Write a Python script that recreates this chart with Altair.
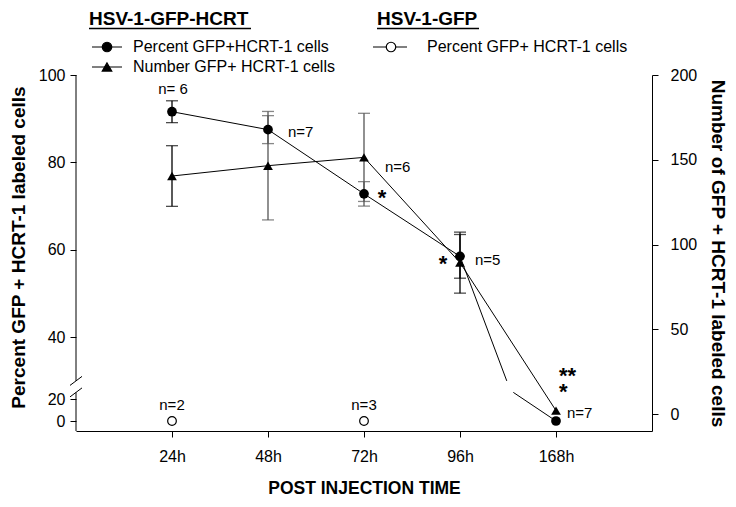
import math
import altair as alt
import pandas as pd

# ------------------------------------------------------------------ data
times = ["24h", "48h", "72h", "96h", "168h"]
pct_gfp_hcrt = [91.6, 87.5, 72.8, 58.5, 0.0]      # left axis, filled circles
pct_err = [2.5, 3.2, 2.8, 5.0, 0.0]
num_gfp_hcrt = [140.4, 146.5, 151.4, 89.3, 2.0]   # right axis, triangles
num_err = [17.9, 32.0, 26.0, 18.0, 0.0]
n_hcrt = ["n= 6", "n=7", "n=6", "n=5", "n=7"]
bar_colors = ["#000000", "#555555", "#555555", "#000000", "#000000"]

gfp_times = ["24h", "72h"]
pct_gfp = [0.0, 0.0]                              # open circles
n_gfp = ["n=2", "n=3"]

left_ticks = [0, 20, 40, 60, 80, 100]
right_ticks = [0, 50, 100, 150, 200]

FONT = "Liberation Sans"

# ------------------------------------------------------------------ geometry
W, H = 576, 356
UP_PX, UP_B = 4.37, 437.0     # upper part of the broken percent axis
LO_PX, LO_B = 1.10, 346.0     # lower part of the broken percent axis
BREAK_TOP, BREAK_BOT = 30, 26


def up(v):
    return UP_B - UP_PX * v


def lo(v):
    return LO_B - LO_PX * v


left_domain = [(LO_B - H) / LO_PX, BREAK_BOT, BREAK_TOP, 100]
left_range = [H, lo(BREAK_BOT), up(BREAK_TOP), up(100)]
R_PX = 1.695
right_domain = [200 - H / R_PX, 200]

# dash patterns that reproduce the gap of the broken axis on the 96h->168h link
step = W / (len(times) + 1)
i0, i1 = times.index("96h"), times.index("168h")
ddx = step * (i1 - i0)
v0, v1 = pct_gfp_hcrt[i0], pct_gfp_hcrt[i1]
ya, yb = up(v0), up(v1)
L_up = math.hypot(ddx, yb - ya)
dash_up = [L_up * (up(BREAK_TOP) - ya) / (yb - ya), L_up + 20]
ya2, yb2 = lo(v0), lo(v1)
L_lo = math.hypot(ddx, yb2 - ya2)
hid = L_lo * (lo(BREAK_BOT) - ya2) / (yb2 - ya2)
dash_lo = [0, hid, L_lo, 20]

# ------------------------------------------------------------------ tables
df = pd.DataFrame({
    "time": times, "idx": list(range(len(times))),
    "pct": pct_gfp_hcrt, "pct_err": pct_err,
    "num": num_gfp_hcrt, "num_err": num_err,
    "n": n_hcrt, "bar": bar_colors,
})
df["pct_lo"] = df["pct"] - df["pct_err"]
df["pct_hi"] = df["pct"] + df["pct_err"]
df["num_lo"] = df["num"] - df["num_err"]
df["num_hi"] = df["num"] + df["num_err"]
dfg = pd.DataFrame({"time": gfp_times, "pct": pct_gfp, "n": n_gfp})
one = pd.DataFrame({"a": [0]})

# ------------------------------------------------------------------ scales / axes
x_axis = alt.Axis(labelAngle=0, tickSize=6, labelPadding=11, labelFontSize=16,
                  labelColor="black", domainColor="black", tickColor="black",
                  titleFontSize=17.5, titleFontWeight="bold", titleColor="black",
                  titleX=W / 2, titleY=57, titleBaseline="middle", grid=False)
X = alt.X("time:N", scale=alt.Scale(type="point", domain=times, padding=1),
          axis=x_axis, title="POST INJECTION TIME")

left_axis = alt.Axis(orient="left", values=left_ticks, domain=False, tickSize=6,
                     labelPadding=5, labelFontSize=16, labelColor="black",
                     tickColor="black", grid=False,
                     titleFontSize=19, titleFontWeight="bold", titleColor="black",
                     titleX=-58, titleY=172, titleAngle=270, titleAlign="center",
                     titleBaseline="middle")
right_axis = alt.Axis(orient="right", values=right_ticks, tickSize=6,
                      labelPadding=12, labelFontSize=16, labelColor="black",
                      tickColor="black", domainColor="black", grid=False,
                      titleFontSize=19, titleFontWeight="bold", titleColor="black",
                      titleX=65, titleY=178, titleAngle=90, titleAlign="center",
                      titleBaseline="middle")

LSCALE = alt.Scale(domain=left_domain, range=left_range, nice=False, zero=False)
RSCALE = alt.Scale(domain=right_domain, range=[H, 0], nice=False, zero=False)


def YL(field, axis=None, title=""):
    return alt.Y(field, type="quantitative", scale=LSCALE, axis=axis, title=title)


def YR(field, axis=None, title=""):
    return alt.Y(field, type="quantitative", scale=RSCALE, axis=axis, title=title)


base = alt.Chart(df)
layers = []

# lines
layers.append(base.mark_line(color="black", strokeWidth=1).encode(
    x=X, y=YR("num", right_axis, "Number of GFP + HCRT-1 labeled cells"), order="idx:Q"))
layers.append(base.transform_filter(alt.datum.idx <= i0).mark_line(color="black", strokeWidth=1).encode(
    x=X, y=YL("pct", left_axis, "Percent  GFP + HCRT-1 labeled cells"), order="idx:Q"))
seg = base.transform_filter(alt.datum.idx >= i0)
layers.append(seg.mark_line(color="black", strokeWidth=1, strokeDash=dash_up).encode(
    x=X, y=alt.Y("pct:Q", scale=alt.Scale(domain=[0, 100], range=[up(0), up(100)], nice=False, zero=False), axis=None),
    order="idx:Q"))
layers.append(seg.mark_line(color="black", strokeWidth=1, strokeDash=dash_lo).encode(
    x=X, y=alt.Y("pct:Q", scale=alt.Scale(domain=[0, 100], range=[lo(0), lo(100)], nice=False, zero=False), axis=None),
    order="idx:Q"))

# error bars
eb = base.transform_filter(alt.datum.pct_err > 0)
layers.append(eb.mark_rule(strokeWidth=1.3).encode(
    x=X, y=YL("pct_lo"), y2="pct_hi", color=alt.Color("bar:N", scale=None)))
layers.append(eb.mark_tick(size=12, thickness=1.3).encode(x=X, y=YL("pct_lo"), color=alt.Color("bar:N", scale=None)))
layers.append(eb.mark_tick(size=12, thickness=1.3).encode(x=X, y=YL("pct_hi"), color=alt.Color("bar:N", scale=None)))
ebn = base.transform_filter(alt.datum.num_err > 0)
layers.append(ebn.mark_rule(strokeWidth=1.3).encode(
    x=X, y=YR("num_lo"), y2="num_hi", color=alt.Color("bar:N", scale=None)))
layers.append(ebn.mark_tick(size=12, thickness=1.3).encode(x=X, y=YR("num_lo"), color=alt.Color("bar:N", scale=None)))
layers.append(ebn.mark_tick(size=12, thickness=1.3).encode(x=X, y=YR("num_hi"), color=alt.Color("bar:N", scale=None)))

# markers
layers.append(base.mark_point(shape="triangle-up", filled=True, size=95, color="black", opacity=1).encode(
    x=X, y=YR("num")))
layers.append(base.mark_point(shape="circle", filled=True, size=95, color="black", opacity=1).encode(
    x=X, y=YL("pct")))
gb = alt.Chart(dfg)
layers.append(gb.mark_point(shape="circle", filled=True, fill="white", stroke="black", strokeWidth=1.2,
                            size=75, opacity=1).encode(x=X, y=YL("pct")))
layers.append(gb.mark_text(fontSize=15, baseline="middle", dy=-16, color="black").encode(
    x=X, y=YL("pct"), text="n:N"))

# n labels (offsets relative to the circle of each time)
n_offsets = {"24h": ("center", 1, -23), "48h": ("left", 20, 2), "72h": ("left", 21, -27),
             "96h": ("left", 15, 4), "168h": ("left", 11, -8)}
for t, (al, ox, oy) in n_offsets.items():
    layers.append(base.transform_filter(alt.datum.time == t).mark_text(
        fontSize=15, baseline="middle", align=al, dx=ox, dy=oy, color="black").encode(
        x=X, y=YL("pct"), text="n:N"))

# significance stars
star_marks = [("72h", "*", "center", 18, 11), ("96h", "*", "center", -17, 15),
              ("168h", ["**", "*"], "left", 3, -38)]
for t, s, al, ox, oy in star_marks:
    layers.append(base.transform_filter(alt.datum.time == t).mark_text(
        text=s, fontSize=22, fontWeight="bold", baseline="alphabetic", align=al,
        lineHeight=16, dx=ox, dy=oy, color="black").encode(x=X, y=YL("pct")))


# ------------------------------------------------------------------ decorations
def seg_rule(x1, y1, x2, y2, w=1.0):
    return alt.Chart(one).mark_rule(color="black", strokeWidth=w).encode(
        x=alt.value(x1), y=alt.value(y1), x2=alt.value(x2), y2=alt.value(y2))


def label(txt, x, y, size, weight="normal", align="left"):
    return alt.Chart(one).mark_text(text=txt, align=align, baseline="middle", fontSize=size,
                                    fontWeight=weight, color="black").encode(
        x=alt.value(x), y=alt.value(y))


def symbol(x, y, shape, fill):
    return alt.Chart(one).mark_point(shape=shape, filled=True, fill=fill, stroke="black",
                                     strokeWidth=1.2, size=90, opacity=1).encode(
        x=alt.value(x), y=alt.value(y))


# broken left axis line
yb_top, yb_bot = up(BREAK_TOP), lo(BREAK_BOT)
layers.append(seg_rule(0, 0, 0, yb_top))
layers.append(seg_rule(0, yb_bot, 0, H))
layers.append(seg_rule(-6, yb_top + 4.5, 6, yb_top - 4.5))
layers.append(seg_rule(-6, yb_bot + 4.5, 6, yb_bot - 4.5))

# legend
layers.append(label("HSV-1-GFP-HCRT", 13, -56, 19, "bold"))
layers.append(seg_rule(13, -46.5, 175, -46.5, 1.5))
layers.append(label("HSV-1-GFP", 301, -56, 19, "bold"))
layers.append(seg_rule(301, -46.5, 403, -46.5, 1.5))
layers.append(seg_rule(16, -28, 46, -28))
layers.append(symbol(31, -28, "circle", "black"))
layers.append(label("Percent GFP+HCRT-1 cells", 57, -28, 16))
layers.append(seg_rule(16, -8, 46, -8))
layers.append(symbol(31, -8, "triangle-up", "black"))
layers.append(label("Number GFP+ HCRT-1 cells", 57, -8, 16))
layers.append(seg_rule(297, -28, 331, -28))
layers.append(symbol(315, -28, "circle", "white"))
layers.append(label("Percent GFP+ HCRT-1 cells", 351, -28, 16))

chart = alt.layer(*layers).resolve_scale(y="independent").properties(
    width=W, height=H,
    autosize=alt.AutoSizeParams(type="none"),
    padding={"left": 68, "top": 67, "right": 76, "bottom": 68},
).configure(font=FONT).configure_view(stroke="transparent")

chart.save("out.html", embed_options={"renderer": "svg", "actions": False})
